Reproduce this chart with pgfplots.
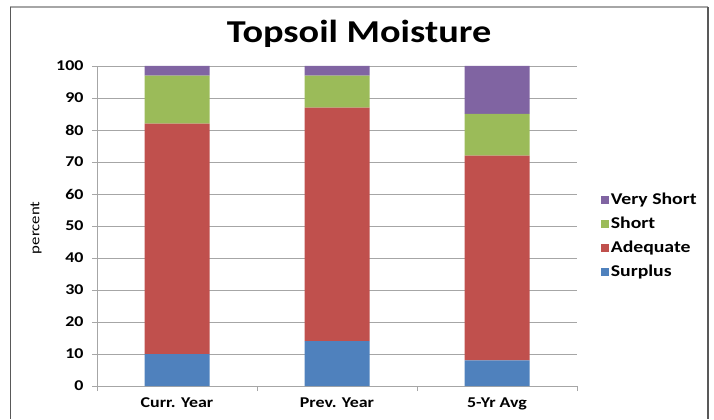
\documentclass[border=0pt]{standalone}
\usepackage{pgfplots}
\pgfplotsset{compat=1.18}
\usepackage{fontspec}
\setmainfont{Carlito}[FakeStretch=1.2]
\definecolor{cBlue}{HTML}{4F81BD}
\definecolor{cRed}{HTML}{C0504D}
\definecolor{cGreen}{HTML}{9BBB59}
\definecolor{cPurple}{HTML}{8064A2}
\definecolor{cGrid}{HTML}{A6A6A6}
\begin{document}
\begin{tikzpicture}[x=1bp,y=1bp]
\useasboundingbox (0,0) rectangle (714,419);
\draw[cGrid, line width=1.5bp] (10,412) -- (708,412);
\draw[black!65, line width=1bp] (10,412) -- (10,0);
\draw[black!65, line width=1.2bp] (708,412) -- (708,0);
\node[font=\bfseries\fontsize{32}{36}\selectfont] at (359,385) {Topsoil Moisture};
\begin{axis}[
  at={(97bp,33bp)}, anchor=south west,
  scale only axis, width=480bp, height=320bp,
  ybar stacked, bar width=65bp,
  xmin=-0.5, xmax=2.5, ymin=0, ymax=100,
  ytick={0,10,...,100},
  xtick={0,1,2},
  xticklabels={Curr. Year, Prev. Year, 5-Yr Avg},
  minor xtick={-0.5,0.5,1.5,2.5},
  major x tick style={draw=none},
  tick align=outside,
  major tick length=5bp, minor tick length=5bp,
  every tick/.style={cGrid},
  axis x line*=bottom, axis y line*=left,
  axis line style={cGrid, -},
  ymajorgrids, grid style={cGrid, line width=0.6bp},
  /pgf/number format/assume math mode=true,
  ticklabel style={font=\bfseries\fontsize{15}{17}\selectfont},
  yticklabel style={xshift=-5bp},
  xticklabel style={yshift=-3bp},
  ylabel={percent},
  ylabel style={font=\fontsize{14}{16}\selectfont, at={(axis description cs:-0.127,0.494)}, anchor=center},
  legend style={at={(1.043,0.47)}, anchor=west, draw=none, fill=none,
    font=\bfseries\fontsize{16.5}{18}\selectfont, row sep=7bp},
  legend cell align=left,
  reverse legend,
  legend image code/.code={\fill[#1] (-5bp,-4bp) rectangle (3bp,4bp);},
]
\addplot[fill=cBlue, draw=none] coordinates {(0,10) (1,14) (2,8)};
\addplot[fill=cRed, draw=none] coordinates {(0,72) (1,73) (2,64)};
\addplot[fill=cGreen, draw=none] coordinates {(0,15) (1,10) (2,13)};
\addplot[fill=cPurple, draw=none] coordinates {(0,3) (1,3) (2,15)};
\legend{Surplus, Adequate, Short, Very Short}
\end{axis}
\end{tikzpicture}
\end{document}
